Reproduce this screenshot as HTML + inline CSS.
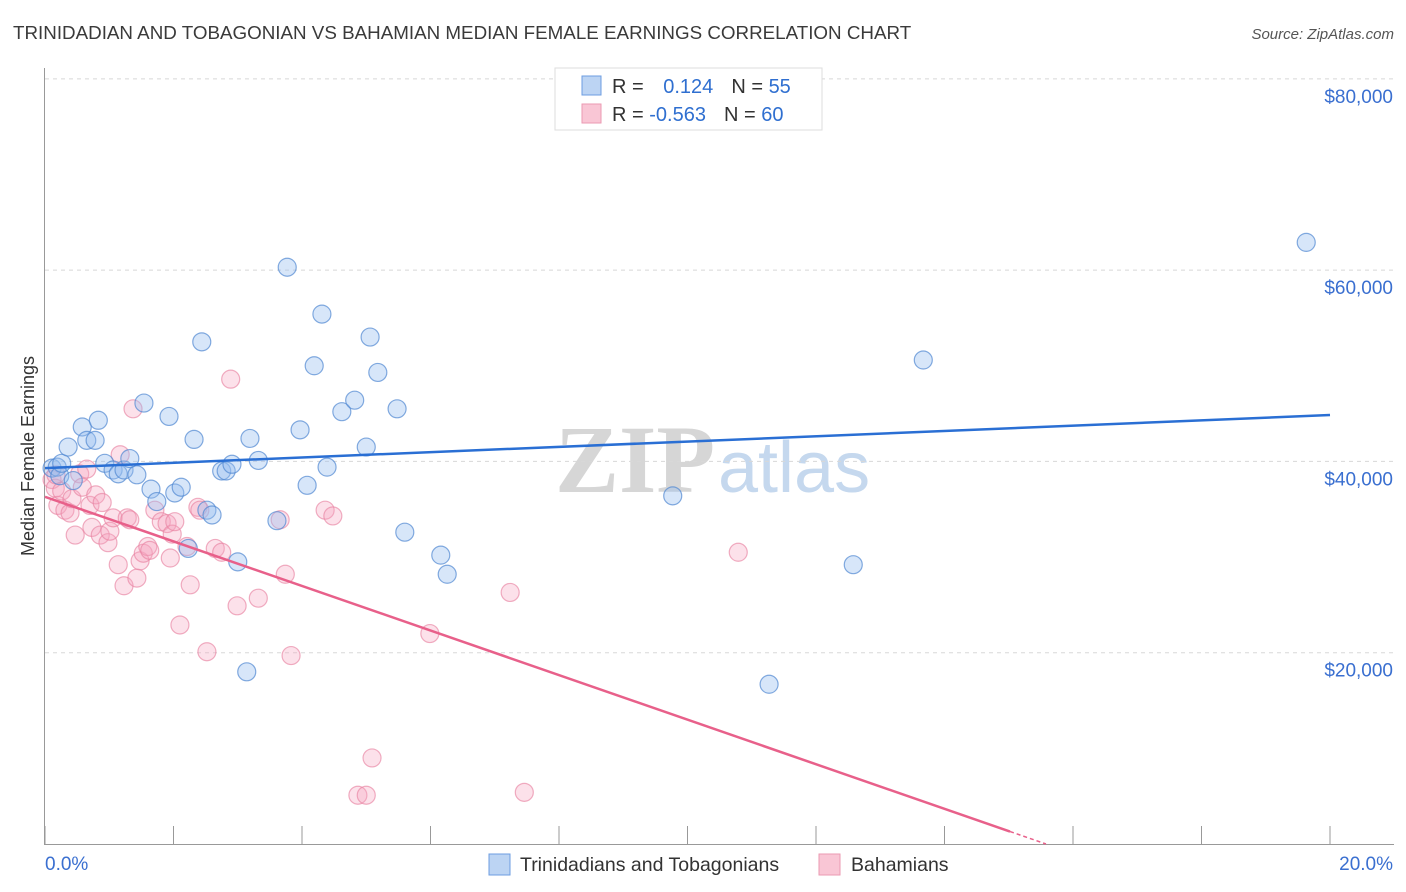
<!DOCTYPE html>
<html><head><meta charset="utf-8"><style>
body{margin:0;background:#fff;font-family:"Liberation Sans",sans-serif;}
#wrap{position:relative;width:1406px;height:892px;overflow:hidden;}
</style></head><body>
<div id="wrap">
<svg id="svg" width="1406" height="892" xmlns="http://www.w3.org/2000/svg">
<text x="13" y="39" font-size="18.8" fill="#3a3a3a">TRINIDADIAN AND TOBAGONIAN VS BAHAMIAN MEDIAN FEMALE EARNINGS CORRELATION CHART</text>
<text x="1394" y="39" font-size="15" fill="#555" font-style="italic" text-anchor="end">Source: ZipAtlas.com</text>
<text x="555" y="492" font-size="96" fill="#d6d6d6" font-family="Liberation Serif,serif" font-weight="bold">ZIP</text>
<text x="718" y="492" font-size="72" fill="#c5d8ee">atlas</text>
<g id="grid"></g>
<g id="axes"></g>
<g id="pts"></g>
<g id="lines"></g>
<text transform="translate(34,456) rotate(-90)" font-size="18" fill="#333" text-anchor="middle">Median Female Earnings</text>
<g>
<rect x="555" y="68" width="267" height="62" fill="#fff" stroke="#ddd"/>
<rect x="582" y="76" width="19" height="19" fill="#bcd4f3" stroke="#6d9de0"/>
<rect x="582" y="104" width="19" height="19" fill="#f9c6d5" stroke="#eb9ab2"/>
<text x="612" y="93" font-size="20" fill="#333">R = <tspan fill="#2f6fd0" dx="14">0.124</tspan><tspan fill="#333" dx="18">N = </tspan><tspan fill="#2f6fd0">55</tspan></text>
<text x="612" y="121" font-size="20" fill="#333">R = <tspan fill="#2f6fd0">-0.563</tspan><tspan fill="#333" dx="18">N = </tspan><tspan fill="#2f6fd0">60</tspan></text>
</g>
<g>
<rect x="489" y="854" width="21" height="21" fill="#bcd4f3" stroke="#6d9de0"/>
<text x="520" y="871" font-size="19.5" fill="#333">Trinidadians and Tobagonians</text>
<rect x="819" y="854" width="21" height="21" fill="#f9c6d5" stroke="#eb9ab2"/>
<text x="851" y="871" font-size="19.5" fill="#333">Bahamians</text>
</g>
</svg>
</div>
<script>
const blueX=[.11,.19,.23,.26,.36,.44,.58,.65,.78,.83,.93,1.06,1.14,1.23,1.32,1.43,1.54,1.65,1.74,1.93,2.02,2.12,2.23,2.32,2.52,2.60,2.44,2.75,2.82,2.91,3.00,3.14,3.19,3.32,3.61,3.77,3.97,4.08,4.19,4.31,4.39,4.62,4.82,5.00,5.06,5.18,5.48,5.60,6.16,6.26,9.77,11.27,12.58,13.67,19.63];
const blueY=[39.3,39.4,38.5,39.8,41.5,38.0,43.6,42.2,42.2,44.3,39.8,39.1,38.7,39.1,40.3,38.6,46.1,37.1,35.8,44.7,36.7,37.3,30.9,42.3,34.9,34.4,52.5,39.0,39.0,39.7,29.5,18.0,42.4,40.1,33.8,60.3,43.3,37.5,50.0,55.4,39.4,45.2,46.4,41.5,53.0,49.3,45.5,32.6,30.2,28.2,36.4,16.7,29.2,50.6,62.9];
const pinkX=[.11,.16,.20,.26,.31,.39,.42,.47,.54,.58,.65,.70,.73,.79,.86,.89,.98,1.01,1.06,1.14,1.17,1.23,1.28,1.32,1.37,1.43,1.48,1.53,1.60,1.63,1.71,1.81,1.90,1.95,1.98,2.02,2.10,2.21,2.26,2.38,2.41,2.52,2.65,2.75,2.89,2.99,3.32,3.66,3.74,3.83,4.36,4.48,4.87,5.00,5.09,5.99,7.24,7.46,10.79,.17];
const pinkY=[38.1,37.2,35.4,36.9,34.9,34.6,36.1,32.3,38.7,37.3,39.2,35.4,33.1,36.5,32.3,35.7,31.5,32.7,34.1,29.2,40.7,27.0,34.1,33.9,45.5,27.8,29.6,30.4,31.1,30.7,34.9,33.7,33.5,29.9,32.4,33.7,22.9,31.1,27.1,35.2,34.9,20.1,30.9,30.5,48.6,24.9,25.7,33.9,28.2,19.7,34.9,34.3,5.1,5.1,9.0,22.0,26.3,5.4,30.5,38.6];
const blueTrend=[39.3,44.85]; // value at x=0 and x=20
const pinkTrend=[36.3,-2.33];  // intercept, slope per %
const yTicks=[20000,40000,60000,80000];
const yTickLabels=["$20,000","$40,000","$60,000","$80,000"];
const xTickVals=[0,2,4,6,8,10,12,14,16,18,20];

const NS="http://www.w3.org/2000/svg";
const X=v=>45+v*64.25;
const Y=k=>844-k/0.10455;
function mk(tag,attrs,parent){const e=document.createElementNS(NS,tag);for(const k in attrs)e.setAttribute(k,attrs[k]);document.getElementById(parent).appendChild(e);return e;}
yTicks.forEach((t,i)=>{
  const l=mk('line',{x1:45,x2:1394,y1:Y(t/1000),y2:Y(t/1000),stroke:'#d8d8d8','stroke-dasharray':'4,4'},'grid');
  
  
  const tx=mk('text',{x:1393,y:Y(t/1000)+24,'font-size':19,fill:'#3a6fd0','text-anchor':'end'},'axes');
  tx.textContent=yTickLabels[i];
  
  
});
const ax=mk('line',{x1:44.5,x2:44.5,y1:68,y2:845,stroke:'#999'},'axes');


const bx=mk('line',{x1:44,x2:1394,y1:844.5,y2:844.5,stroke:'#999'},'axes');


xTickVals.forEach(v=>{
  const t=mk('line',{x1:X(v),x2:X(v),y1:826,y2:845,stroke:'#999'},'axes');
  
  
});
const xl0=mk('text',{x:45,y:870,'font-size':19,fill:'#3a6fd0'},'axes');xl0.textContent='0.0%';


const xl1=mk('text',{x:1393,y:870,'font-size':19,fill:'#3a6fd0','text-anchor':'end'},'axes');xl1.textContent='20.0%';


pinkX.forEach((x,i)=>{
  const c=mk('circle',{cx:X(x),cy:Y(pinkY[i]),r:9,fill:'rgba(245,165,190,0.33)',stroke:'rgba(232,130,162,0.65)','stroke-width':1.2},'pts');
  
  
});
blueX.forEach((x,i)=>{
  const c=mk('circle',{cx:X(x),cy:Y(blueY[i]),r:9,fill:'rgba(150,190,240,0.38)',stroke:'rgba(80,135,210,0.7)','stroke-width':1.2},'pts');
  
  
});
const bl=mk('line',{x1:X(0),y1:Y(blueTrend[0]),x2:X(20),y2:Y(blueTrend[1]),stroke:'#2a6fd4','stroke-width':2.5},'lines');


const xEnd=15.02, xZero=-pinkTrend[0]/pinkTrend[1];
const pl=mk('line',{x1:X(0),y1:Y(pinkTrend[0]),x2:X(xEnd),y2:Y(pinkTrend[0]+pinkTrend[1]*xEnd),stroke:'#e8608a','stroke-width':2.5},'lines');


const pd=mk('line',{x1:X(xEnd),y1:Y(pinkTrend[0]+pinkTrend[1]*xEnd),x2:X(xZero),y2:Y(0),stroke:'#e8608a','stroke-width':1.5,'stroke-dasharray':'4,3'},'lines');


</script>
</body></html>
